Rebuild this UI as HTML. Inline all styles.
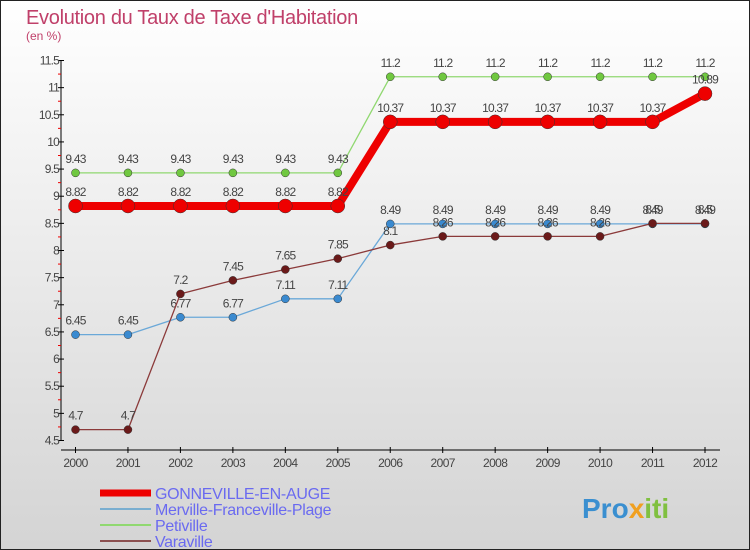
<!DOCTYPE html>
<html><head><meta charset="utf-8"><style>
body{margin:0}
#c{width:750px;height:550px;position:relative;overflow:hidden;box-sizing:border-box;border:1px solid #222;background:linear-gradient(#ffffff,#d4d4d4);font-family:"Liberation Sans",sans-serif}
</style></head><body>
<div id="c">
<svg id="s" width="750" height="550" style="position:absolute;left:-1px;top:-1px">
<text x="26" y="24" font-size="20" fill="#c0406a" letter-spacing="-0.3">Evolution du Taux de Taxe d'Habitation</text>
<text x="26" y="40" font-size="12" fill="#c0406a">(en %)</text>
<g id="axes"></g><g id="series"></g>
<text x="582" y="518" font-size="28" font-weight="bold" fill="#3a8fd0">Pro<tspan fill="#f0a020">x</tspan><tspan fill="#80c040">iti</tspan></text>
</svg>
</div>
<script>
const years=["2000","2001","2002","2003","2004","2005","2006","2007","2008","2009","2010","2011","2012"];
const yTicks=[4.5,5,5.5,6,6.5,7,7.5,8,8.5,9,9.5,10,10.5,11,11.5];
const gonneville=[8.82,8.82,8.82,8.82,8.82,8.82,10.37,10.37,10.37,10.37,10.37,10.37,10.89];
const merville=[6.45,6.45,6.77,6.77,7.11,7.11,8.49,8.49,8.49,8.49,8.49,8.49,8.49];
const petiville=[9.43,9.43,9.43,9.43,9.43,9.43,11.2,11.2,11.2,11.2,11.2,11.2,11.2];
const varaville=[4.7,4.7,7.2,7.45,7.65,7.85,8.1,8.26,8.26,8.26,8.26,8.5,8.5];
const NS="http://www.w3.org/2000/svg";
const X=i=>75.5+i*(705-75.5)/(years.length-1);
const Y=v=>440.5-(v-4.5)*(380/7);
function mk(t,a,p){const e=document.createElementNS(NS,t);for(const k in a)e.setAttribute(k,a[k]);p.appendChild(e);return e;}
const ax=document.getElementById('axes');
let e=mk('line',{x1:61,y1:Y(11.5),x2:61,y2:Y(4.5),stroke:'#000','stroke-width':1},ax);

e=mk('line',{x1:61,y1:450,x2:720,y2:450,stroke:'#000','stroke-width':1},ax);

yTicks.forEach((v,i)=>{
 mk('line',{x1:58,x2:64,y1:Y(v),y2:Y(v),stroke:'#000'},ax);
 if(i<yTicks.length-1)mk('line',{x1:58,x2:61,y1:Y(v+0.25),y2:Y(v+0.25),stroke:'#e00'},ax);
 const t=mk('text',{x:59,y:Y(v)+4,'font-size':12,fill:'#444','text-anchor':'end','letter-spacing':'-0.8'},ax);t.textContent=v;
 
});
years.forEach((y,i)=>{
 mk('line',{x1:X(i),x2:X(i),y1:447,y2:453,stroke:'#000'},ax);
 const t=mk('text',{x:X(i),y:467,'font-size':12,fill:'#444','text-anchor':'middle','letter-spacing':'-0.6'},ax);t.textContent=y;
 
});
const sg=document.getElementById('series');
function series(vals,col,w,r,name,dot){
 const g=mk('g',{},sg);
 
 const l=mk('polyline',{points:vals.map((v,i)=>X(i)+','+Y(v)).join(' '),fill:'none',stroke:col,'stroke-width':w,'stroke-linejoin':'round'},g);
 
 vals.forEach((v,i)=>{
  const c=mk('circle',{cx:X(i),cy:Y(v),r:r,fill:dot,stroke:'#333','stroke-width':0.5},g);
  
  const t=mk('text',{x:X(i),y:Y(v)-10,'font-size':12,fill:'#444','text-anchor':'middle','letter-spacing':'-0.8'},g);t.textContent=v;
  
 });
}
series(petiville,'#90d870',1.3,4,'petiville','#70c840');
series(merville,'#6aa8d8',1.3,4,'merville','#3a8ad0');
series(varaville,'#8b3a3a',1.3,4,'varaville','#6b1a1a');
series(gonneville,'#ee0000',8,7,'gonneville','#ee0000');
const legend=[["GONNEVILLE-EN-AUGE","#ee0000",7],["Merville-Franceville-Plage","#7aaed0",2],["Petiville","#90d870",2],["Varaville","#8b5050",2]];
legend.forEach((L,i)=>{
 const y=493+i*16;
 const g=mk('g',{},document.getElementById('s'));
 
 mk('line',{x1:100,x2:151,y1:y,y2:y,stroke:L[1],'stroke-width':L[2]},g);
 const t=mk('text',{x:155,y:y+6,'font-size':16,fill:'#6a6af0','letter-spacing':'-0.3'},g);t.textContent=L[0];
});
</script>
</body></html>
